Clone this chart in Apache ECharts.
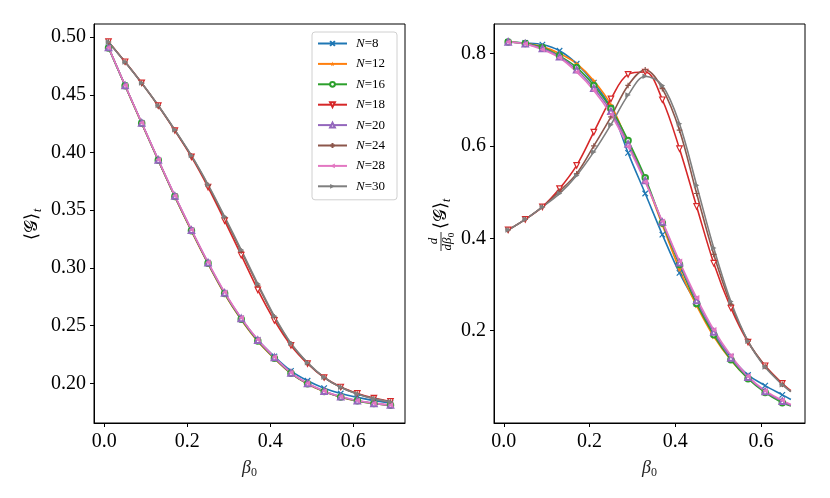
<!DOCTYPE html>
<html>
<head>
<meta charset="utf-8">
<title>ECharts</title>
<script src="https://cdn.jsdelivr.net/npm/echarts@6/dist/echarts.min.js"></script>
</head>
<body style="margin:0">
<div id="main" style="width: 830px; height: 498px;"></div>
<script type="text/javascript">
// beta_0 values (markers every 0.04)
var betaG = [0.01, 0.05, 0.09, 0.13, 0.17, 0.21, 0.25, 0.29, 0.33, 0.37, 0.41, 0.45, 0.49, 0.53, 0.57, 0.61, 0.65, 0.69];
var betaD = [0.01, 0.05, 0.09, 0.13, 0.17, 0.21, 0.25, 0.29, 0.33, 0.37, 0.41, 0.45, 0.49, 0.53, 0.57, 0.61, 0.65, 0.67];

var sizes = ['N=8', 'N=12', 'N=16', 'N=18', 'N=20', 'N=24', 'N=28', 'N=30'];

// <G>_t, left panel
var g8  = [0.4910, 0.4580, 0.4255, 0.3933, 0.3620, 0.3325, 0.3042, 0.2782, 0.2562, 0.2376, 0.2232, 0.2108, 0.2022, 0.1958, 0.1912, 0.1878, 0.1850, 0.1830];
var g12 = [0.4910, 0.4578, 0.4252, 0.3930, 0.3615, 0.3318, 0.3035, 0.2772, 0.2550, 0.2362, 0.2214, 0.2085, 0.1993, 0.1928, 0.1880, 0.1847, 0.1825, 0.1810];
var g16 = [0.4905, 0.4578, 0.4254, 0.3932, 0.3618, 0.3322, 0.3040, 0.2778, 0.2555, 0.2367, 0.2218, 0.2087, 0.1995, 0.1929, 0.1881, 0.1848, 0.1825, 0.1810];
var g18 = [0.4960, 0.4786, 0.4603, 0.4405, 0.4190, 0.3962, 0.3700, 0.3410, 0.3110, 0.2810, 0.2545, 0.2328, 0.2170, 0.2050, 0.1968, 0.1912, 0.1872, 0.1843];
var g20 = [0.4910, 0.4580, 0.4256, 0.3935, 0.3622, 0.3327, 0.3044, 0.2783, 0.2561, 0.2373, 0.2223, 0.2090, 0.1998, 0.1932, 0.1883, 0.1849, 0.1826, 0.1811];
var g24 = [0.4957, 0.4783, 0.4600, 0.4405, 0.4193, 0.3970, 0.3715, 0.3435, 0.3145, 0.2851, 0.2574, 0.2342, 0.2176, 0.2050, 0.1965, 0.1908, 0.1867, 0.1838];
var g28 = [0.4910, 0.4582, 0.4258, 0.3938, 0.3626, 0.3331, 0.3049, 0.2789, 0.2567, 0.2379, 0.2228, 0.2093, 0.2001, 0.1934, 0.1885, 0.1851, 0.1828, 0.1812];
var g30 = [0.4957, 0.4783, 0.4601, 0.4407, 0.4196, 0.3974, 0.3722, 0.3445, 0.3156, 0.2862, 0.2582, 0.2347, 0.2179, 0.2052, 0.1966, 0.1908, 0.1867, 0.1838];

// d/dbeta_0 <G>_t, right panel
var d8  = [0.825, 0.823, 0.8195, 0.806, 0.778, 0.737, 0.682, 0.585, 0.497, 0.408, 0.325, 0.258, 0.194, 0.143, 0.104, 0.081, 0.061, 0.051];
var d12 = [0.825, 0.822, 0.815, 0.800, 0.778, 0.741, 0.689, 0.607, 0.525, 0.429, 0.333, 0.254, 0.187, 0.136, 0.097, 0.068, 0.046, 0.038];
var d16 = [0.825, 0.822, 0.813, 0.795, 0.770, 0.731, 0.681, 0.612, 0.531, 0.433, 0.343, 0.259, 0.191, 0.137, 0.096, 0.066, 0.044, 0.037];
var d18 = [0.418, 0.441, 0.468, 0.5075, 0.558, 0.630, 0.702, 0.755, 0.760, 0.700, 0.594, 0.469, 0.346, 0.249, 0.175, 0.124, 0.086, 0.070];
var d20 = [0.825, 0.821, 0.811, 0.793, 0.765, 0.725, 0.675, 0.604, 0.525, 0.435, 0.347, 0.265, 0.197, 0.141, 0.099, 0.068, 0.047, 0.038];
var d24 = [0.418, 0.441, 0.468, 0.502, 0.540, 0.600, 0.663, 0.731, 0.765, 0.724, 0.634, 0.497, 0.365, 0.257, 0.177, 0.123, 0.084, 0.068];
var d28 = [0.825, 0.821, 0.8087, 0.791, 0.760, 0.720, 0.668, 0.599, 0.522, 0.437, 0.350, 0.271, 0.202, 0.146, 0.101, 0.070, 0.049, 0.040];
var d30 = [0.418, 0.441, 0.468, 0.4967, 0.536, 0.587, 0.646, 0.710, 0.751, 0.731, 0.648, 0.515, 0.379, 0.263, 0.177, 0.121, 0.083, 0.068];

var gVals = [g8, g12, g16, g18, g20, g24, g28, g30];
var dVals = [d8, d12, d16, d18, d20, d24, d28, d30];

var colors = ['#1f77b4', '#ff7f0e', '#2ca02c', '#d62728', '#9467bd', '#8c564b', '#e377c2', '#7f7f7f'];
// marker shape + how it is painted
var marks = [
    ['path://M0,0L10,10M10,0L0,10', 'stroke'],
    ['path://M5,0L6.18,3.6L10,3.6L6.9,5.9L8.1,9.5L5,7.3L1.9,9.5L3.1,5.9L0,3.6L3.82,3.6Z', 'solid'],
    ['emptyCircle', 'empty'],
    ['path://M0,0L10,0L5,9Z', 'hollow'],
    ['emptyTriangle', 'empty'],
    ['path://M5,0L5,10M0,5L10,5', 'stroke'],
    ['path://M10,0L0,5L10,10Z', 'solid'],
    ['path://M0,0L10,5L0,10Z', 'solid']
];

var serif = 'Liberation Serif';

function itemStyleFor(i) {
    var c = colors[i], kind = marks[i][1];
    if (kind == 'solid') return { color: c };
    if (kind == 'empty') return { color: c, borderWidth: 1.2 };   // echarts fills these white itself
    if (kind == 'hollow') return { color: '#fff', borderColor: c, borderWidth: 1.2 };
    return { color: c, borderColor: c, borderWidth: 1.2 };
}

var series = [];
sizes.forEach(function (name, i) {
    series.push({
        name: name, type: 'line', xAxisIndex: 0, yAxisIndex: 0,
        data: betaG.map(function (b, k) { return [b, gVals[i][k]]; }),
        symbol: marks[i][0], symbolSize: 5.5, showAllSymbol: true, smooth: 0.2,
        lineStyle: { color: colors[i], width: 1.6 },
        itemStyle: itemStyleFor(i)
    });
});
sizes.forEach(function (name, i) {
    series.push({
        name: name, type: 'line', xAxisIndex: 1, yAxisIndex: 1,
        data: betaD.map(function (b, k) {
            // last point only extends the line, no marker
            if (k == betaD.length - 1) return { value: [b, dVals[i][k]], symbol: 'none' };
            return [b, dVals[i][k]];
        }),
        symbol: marks[i][0], symbolSize: 5.5, showAllSymbol: true, smooth: 0.35,
        lineStyle: { color: colors[i], width: 1.6 },
        itemStyle: itemStyleFor(i)
    });
});

function xAxisFor(idx, min, max) {
    return {
        type: 'value', gridIndex: idx, min: min, max: max,
        name: '{b|β}{s|0}', nameLocation: 'middle', nameGap: 34,
        nameTextStyle: {
            rich: {
                b: { fontFamily: serif, fontStyle: 'italic', fontSize: 18, color: '#222' },
                s: { fontFamily: serif, fontSize: 12, color: '#222', padding: [10, 0, 0, 0] }
            }
        },
        axisLine: { show: true, onZero: false, lineStyle: { color: '#000', width: 1 } },
        axisTick: { show: true, length: 4, lineStyle: { color: '#000' }, customValues: [0, 0.2, 0.4, 0.6] },
        axisLabel: {
            customValues: [0, 0.2, 0.4, 0.6], margin: 9,
            fontFamily: serif, fontSize: 20, color: '#000',
            formatter: function (v) { return v.toFixed(1); }
        },
        splitLine: { show: false }
    };
}

function yAxisFor(idx, min, max, ticks, digits) {
    return {
        type: 'value', gridIndex: idx, min: min, max: max,
        axisLine: { show: true, onZero: false, lineStyle: { color: '#000', width: 1 } },
        axisTick: { show: true, length: 4, lineStyle: { color: '#000' }, customValues: ticks },
        axisLabel: {
            customValues: ticks, margin: 8,
            fontFamily: serif, fontSize: 20, color: '#000',
            formatter: function (v) { return v.toFixed(digits); }
        },
        splitLine: { show: false }
    };
}

var labelFont = { fontFamily: serif, fill: '#000' };

var myChart = echarts.init(document.getElementById('main'));
myChart.setOption({
    animation: false,
    backgroundColor: '#fff',
    grid: [
        { left: 94, top: 24, width: 311, height: 399, show: true, borderColor: '#000', borderWidth: 1 },
        { left: 494, top: 24, width: 311, height: 399, show: true, borderColor: '#000', borderWidth: 1 }
    ],
    xAxis: [xAxisFor(0, -0.025, 0.725), xAxisFor(1, -0.023, 0.703)],
    yAxis: [
        yAxisFor(0, 0.1656, 0.5113, [0.20, 0.25, 0.30, 0.35, 0.40, 0.45, 0.50], 2),
        yAxisFor(1, 0.0, 0.864, [0.2, 0.4, 0.6, 0.8], 1)
    ],
    legend: {
        orient: 'vertical', left: 312, top: 32,
        data: sizes,
        itemWidth: 29, itemHeight: 6, itemGap: 7.4,
        padding: [5, 12, 7, 5],
        borderColor: '#d0d0d0', borderWidth: 1, borderRadius: 3,
        backgroundColor: 'rgba(255,255,255,0.8)',
        formatter: function (name) { return '{i|N}{r|' + name.slice(1) + '}'; },
        textStyle: {
            padding: [0, 0, 0, 4],
            rich: {
                i: { fontFamily: serif, fontStyle: 'italic', fontSize: 13, color: '#000', lineHeight: 14 },
                r: { fontFamily: serif, fontSize: 13, color: '#000', lineHeight: 14 }
            }
        }
    },
    graphic: [
        {   // left y label  <G>_t
            type: 'group', x: 32, y: 226, rotation: Math.PI / 2,
            children: [
                { type: 'text', x: -14, y: 0, style: Object.assign({ text: '⟨𝒢⟩', fontSize: 18, verticalAlign: 'middle' }, labelFont) },
                { type: 'text', x: 14, y: 6, style: Object.assign({ text: 't', fontSize: 12, fontStyle: 'italic', verticalAlign: 'middle' }, labelFont) }
            ]
        },
        {   // right y label  d/dbeta0 <G>_t
            type: 'group', x: 441, y: 224, rotation: Math.PI / 2,
            children: [
                { type: 'text', x: -17, y: -1, style: Object.assign({ text: 'd', fontSize: 13, fontStyle: 'italic', align: 'center', verticalAlign: 'bottom' }, labelFont) },
                { type: 'line', shape: { x1: -27, y1: 0, x2: -8, y2: 0 }, style: { stroke: '#000', lineWidth: 0.8 } },
                { type: 'text', x: -20, y: 0.5, style: Object.assign({ text: 'dβ', fontSize: 13, fontStyle: 'italic', align: 'center', verticalAlign: 'top' }, labelFont) },
                { type: 'text', x: -11, y: 6, style: Object.assign({ text: '0', fontSize: 9, align: 'center', verticalAlign: 'top' }, labelFont) },
                { type: 'text', x: -5, y: 0, style: Object.assign({ text: '⟨𝒢⟩', fontSize: 18, verticalAlign: 'middle' }, labelFont) },
                { type: 'text', x: 22, y: 6, style: Object.assign({ text: 't', fontSize: 12, fontStyle: 'italic', verticalAlign: 'middle' }, labelFont) }
            ]
        }
    ],
    series: series
});
</script>
</body>
</html>
